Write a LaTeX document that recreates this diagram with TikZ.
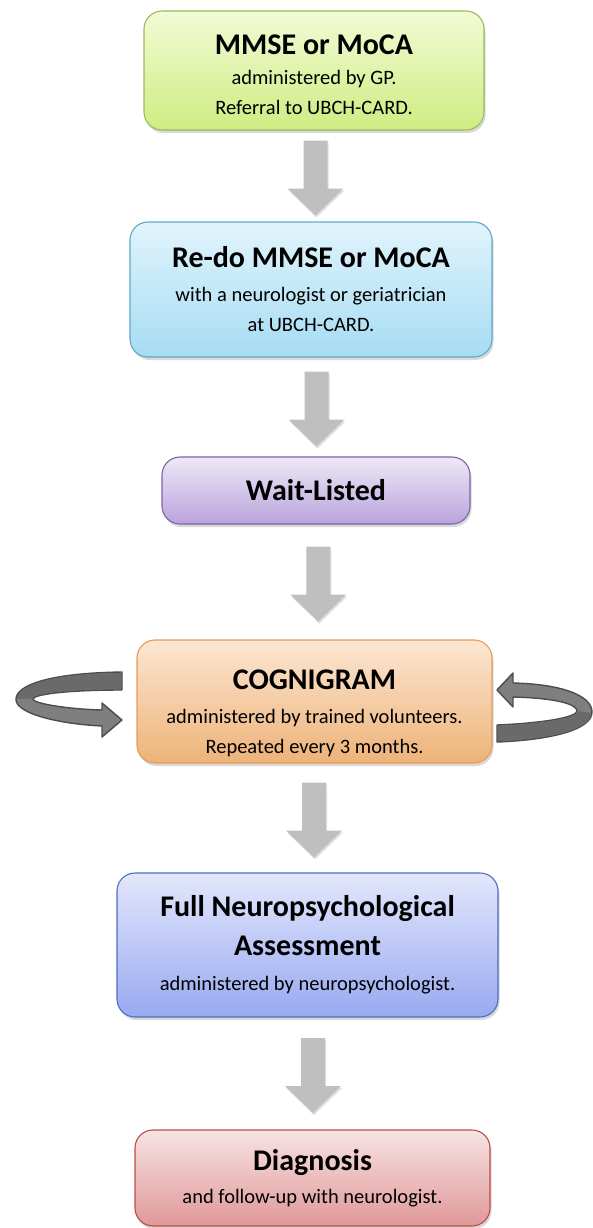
\documentclass[tikz,border=0pt]{standalone}
\usepackage{fontspec}
\setmainfont{Carlito}
\usetikzlibrary{shadows,calc}
\definecolor{gT}{HTML}{F2FBD5}\definecolor{gB}{HTML}{CFEC82}\definecolor{gD}{HTML}{9BBB59}
\definecolor{bT}{HTML}{E1F4FC}\definecolor{bB}{HTML}{A6DCF3}\definecolor{bD}{HTML}{5FA8CB}
\definecolor{pT}{HTML}{EEE8F7}\definecolor{pB}{HTML}{B9A4DC}\definecolor{pD}{HTML}{7F62A6}
\definecolor{oT}{HTML}{FCE6D2}\definecolor{oB}{HTML}{EDB379}\definecolor{oD}{HTML}{E59C58}
\definecolor{vT}{HTML}{E3E7FC}\definecolor{vB}{HTML}{98A9F0}\definecolor{vD}{HTML}{4E6DBF}
\definecolor{rT}{HTML}{F7E3E3}\definecolor{rB}{HTML}{E09898}\definecolor{rD}{HTML}{BE4B48}
\definecolor{arrG}{HTML}{BFBFBF}
\definecolor{loopG}{HTML}{7F7F7F}\definecolor{loopD}{HTML}{6A6A6A}\definecolor{loopE}{HTML}{4D4D4D}
\newcommand\ttl[1]{{\fontsize{30}{34}\selectfont\bfseries #1}}
\newcommand\ttlx[2]{\raisebox{0pt}[\dimexpr\height+#1\relax]{\ttl{#2}}}
\tikzset{
  stagebox/.style={draw, line width=1.1pt, rounded corners=18pt, align=center,
    font=\fontsize{20.5}{30}\selectfont, inner sep=0pt,
    drop shadow={opacity=0.3, shadow xshift=1.5pt, shadow yshift=-3pt}},
  greenbox/.style={stagebox, draw=gD, top color=gT, bottom color=gB},
  bluebox/.style={stagebox, draw=bD, top color=bT, bottom color=bB},
  purplebox/.style={stagebox, draw=pD, top color=pT, bottom color=pB},
  orangebox/.style={stagebox, draw=oD, top color=oT, bottom color=oB},
  violetbox/.style={stagebox, draw=vD, top color=vT, bottom color=vB},
  redbox/.style={stagebox, draw=rD, top color=rT, bottom color=rB},
  blockarrow/.style={fill=arrG, drop shadow={opacity=0.25, shadow xshift=1pt, shadow yshift=-2pt}},
  loopband/.style={fill=loopG, draw=loopE, line width=1.4pt, line join=round},
  loopdark/.style={fill=loopD}
}
\newcommand\flowarrow[2]{%
  \coordinate (m#1#2) at ($(#1.south)!0.5!(#2.north)+(3,2)$);
  \fill[blockarrow, shift={(m#1#2)}] (-12,-37.5) -- (12,-37.5) -- (12,10.5) -- (28,10.5) -- (0,37.5) -- (-28,10.5) -- (-12,10.5) -- cycle;
}
\begin{document}
\begin{tikzpicture}[x=1pt,y=-1pt]
\useasboundingbox (0,0) rectangle (593,1228);
\node[greenbox, minimum width=340pt, minimum height=119pt] (n1) at (314,70.5)
  {\ttlx{8pt}{MMSE or MoCA}\\ administered by GP.\\ Referral to UBCH-CARD.};
\node[bluebox, minimum width=362pt, minimum height=135pt] (n2) at (311,289.5)
  {\ttl{Re-do MMSE or MoCA}\\[4pt] with a neurologist or geriatrician\\ at UBCH-CARD.};
\node[purplebox, minimum width=308pt, minimum height=67pt] (n3) at (316,490.5)
  {\ttl{Wait-Listed}};
\node[orangebox, minimum width=355pt, minimum height=123pt] (n4) at (314.5,701.5)
  {\ttlx{24pt}{COGNIGRAM}\\[4pt] administered by trained volunteers.\\ Repeated every 3 months.};
\node[violetbox, minimum width=381pt, minimum height=144pt] (n5) at (307.5,945)
  {\ttl{Full Neuropsychological}\\[9pt] \ttl{Assessment}\\[5pt] administered by neuropsychologist.};
\node[redbox, minimum width=355pt, minimum height=96pt] (n6) at (312.5,1178)
  {\ttl{Diagnosis}\\[3pt] and follow-up with neurologist.};
\flowarrow{n1}{n2}
\flowarrow{n2}{n3}
\flowarrow{n3}{n4}
\flowarrow{n4}{n5}
\flowarrow{n5}{n6}
% left loop arrow
\path[loopband] (122,672) .. controls (50,673) and (15,685) .. (16,700) .. controls (17,714) and (60,724) .. (102,726) -- (102,737) -- (122,720) -- (102,703) -- (102,710) .. controls (65,709) and (32,703) .. (33,699) .. controls (34,694) and (70,690) .. (122,690) -- cycle;
\fill[loopdark] (121,673) .. controls (50,674) and (16.5,686) .. (17,699) -- (32,698.5) .. controls (34,693) and (70,689) .. (121,689) -- cycle;
% right loop arrow
\path[loopband] (497,690) -- (513,673) -- (513,683) .. controls (560,684) and (592,695) .. (592,712) .. controls (592,730) and (550,740) .. (497,742) -- (497,725) .. controls (545,723) and (577,717) .. (577,711) .. controls (577,704) and (555,698) .. (513,697) -- (513,707) -- cycle;
\fill[loopdark] (591,713) .. controls (591,730) and (550,739) .. (498,741) -- (498,726) .. controls (545,724) and (578,718) .. (578,711) -- cycle;
\end{tikzpicture}
\end{document}
